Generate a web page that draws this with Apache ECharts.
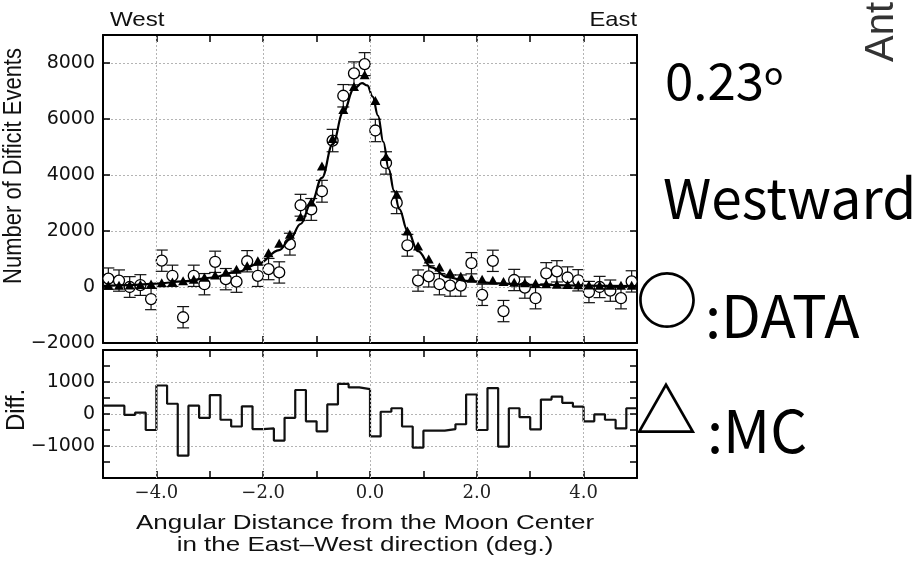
<!DOCTYPE html>
<html><head><meta charset="utf-8">
<script src="https://cdn.jsdelivr.net/npm/echarts@6/dist/echarts.min.js"></script>
<style>html,body{margin:0;padding:0;background:#fff}#c{width:924px;height:563px}</style>
</head><body><div id="c"></div>
<script>
// ---- data ----
const binCenters = [-4.9,-4.7,-4.5,-4.3,-4.1,-3.9,-3.7,-3.5,-3.3,-3.1,-2.9,-2.7,-2.5,-2.3,-2.1,-1.9,-1.7,-1.5,-1.3,-1.1,-0.9,-0.7,-0.5,-0.3,-0.1,0.1,0.3,0.5,0.7,0.9,1.1,1.3,1.5,1.7,1.9,2.1,2.3,2.5,2.7,2.9,3.1,3.3,3.5,3.7,3.9,4.1,4.3,4.5,4.7,4.9];
const dataCounts = [300,230,0,70,-430,940,400,-1080,400,100,900,280,190,920,400,640,520,1530,2920,2770,3420,5230,6830,7630,7960,5590,4430,3010,1490,230,380,100,50,50,850,-280,935,-860,250,-20,-400,490,560,340,240,-180,0,-130,-400,200];
const dataErrors = [380,380,370,370,380,380,380,380,380,380,380,380,380,380,380,380,380,390,390,390,390,400,400,410,410,400,400,390,390,380,380,380,380,380,380,380,380,380,380,380,380,380,380,380,380,380,380,380,380,380];
const mcCounts = [60,60,70,90,110,150,180,220,280,350,430,530,630,760,940,1220,1560,1880,2510,3040,4320,5300,6340,7160,7580,6660,4660,3310,2000,1460,1000,710,510,380,310,280,240,200,170,150,130,120,100,90,80,70,60,60,60,60];
const fitX = [-5.0,-4.5,-4.0,-3.5,-3.0,-2.5,-2.1,-1.7,-1.5,-1.3,-1.1,-0.9,-0.7,-0.5,-0.3,-0.15,-0.05,0.05,0.15,0.25,0.35,0.45,0.55,0.7,0.9,1.15,1.45,1.8,2.4,3.0,4.0,5.0];
const fitY = [40,70,120,200,330,530,820,1320,1700,2250,3000,3900,5100,6250,7080,7280,7200,6800,6120,5180,4220,3440,2780,2020,1280,700,350,220,130,80,50,30];
const diffValues = [260,260,-30,40,-500,890,320,-1300,260,-120,590,-180,-390,240,-470,-450,-830,-120,750,-230,-540,300,940,830,780,-700,70,180,-390,-1050,-520,-520,-470,-320,610,-500,810,-1020,180,-100,-480,450,540,350,230,-230,-10,-180,-450,180];
const xTickValues = [-4,-2,0,2,4];
const xTickLabels = ['\u22124.0','\u22122.0','0.0','2.0','4.0'];
const yTopTickValues = [-2000,0,2000,4000,6000,8000];
const yTopTickLabels = ['\u22122000','0','2000','4000','6000','8000'];
const yDiffTickValues = [-1000,0,1000];
const yDiffTickLabels = ['\u22121000','0','1000'];
const xTitleLines = ['Angular Distance from the Moon Center','in the East\u2013West direction (deg.)'];

// ---- chart ----
const chart = echarts.init(document.getElementById('c'), null, {renderer:'canvas'});
const BLACK = '#000';
const gridLine = {color:'#b4b4b4', type:[2,2], width:1};
const lab = (vals, labels) => v => { const i = vals.indexOf(v); return i >= 0 ? labels[i] : ''; };

function xAx(gridIndex, position, withLabels){
  const a = {
    type:'value', gridIndex, position, min:-5, max:5, interval:1,
    axisLine:{show:true, onZero:false, lineStyle:{color:BLACK, width:2}},
    axisTick:{show:true, inside:true, length:7, lineStyle:{color:BLACK, width:1.5}},
    axisLabel:{show:false},
    splitLine:{show:false}
  };
  if (withLabels) {
    a.axisLabel = {show:true, margin:6, fontFamily:'DejaVu Serif', fontSize:18, color:'#222',
      formatter: lab(xTickValues, xTickLabels)};
  }
  return a;
}
function yAx(gridIndex, position, min, max, interval, labels, minor){
  const a = {
    type:'value', gridIndex, position, min, max, interval,
    axisLine:{show:true, onZero:false, lineStyle:{color:BLACK, width:2}},
    axisTick:{show:true, inside:true, length:7, lineStyle:{color:BLACK, width:1.5}},
    minorTick:{show:!!minor, splitNumber:2, length:7, lineStyle:{color:BLACK, width:1.5}},
    axisLabel:{show:false},
    splitLine:{show:false}
  };
  if (labels) {
    a.axisLabel = {show:true, margin:8, fontFamily:'DejaVu Sans', fontSize:19, color:'#111', formatter: labels};
    a.splitLine = {show:true, lineStyle:gridLine};
  }
  return a;
}

const errData = binCenters.map((x,i)=>[x, dataCounts[i], dataErrors[i]]);
const stepData = binCenters.map((c,i)=>[+(c-0.1).toFixed(2), diffValues[i]]);
stepData.push([+(binCenters[binCenters.length-1]+0.1).toFixed(2), diffValues[diffValues.length-1]]);

const option = {
  animation:false,
  backgroundColor:'#fff',
  grid:[
    {left:103, top:35, width:534, height:308},
    {left:103, top:350, width:534, height:128}
  ],
  xAxis:[
    xAx(0,'bottom',false),
    xAx(0,'top',false),
    xAx(1,'bottom',true),
    xAx(1,'top',false)
  ],
  yAxis:[
    yAx(0,'left',-2000,9000,2000, lab(yTopTickValues, yTopTickLabels), false),
    yAx(0,'right',-2000,9000,2000, null, false),
    yAx(1,'left',-2000,2000,1000, lab(yDiffTickValues, yDiffTickLabels), true),
    yAx(1,'right',-2000,2000,1000, null, true)
  ],
  series:[
    {
      type:'custom', xAxisIndex:0, yAxisIndex:0, z:2, data:errData,
      encode:{x:0, y:1},
      renderItem:(params, api) => {
        const x = api.value(0), y = api.value(1), e = api.value(2);
        const hi = api.coord([x, y+e]), lo = api.coord([x, y-e]);
        const w = 6, st = {stroke:'#111', lineWidth:1.2};
        return {type:'group', children:[
          {type:'line', shape:{x1:hi[0],y1:hi[1],x2:lo[0],y2:lo[1]}, style:st},
          {type:'line', shape:{x1:hi[0]-w,y1:hi[1],x2:hi[0]+w,y2:hi[1]}, style:st},
          {type:'line', shape:{x1:lo[0]-w,y1:lo[1],x2:lo[0]+w,y2:lo[1]}, style:st}
        ]};
      },
      markLine:{silent:true, symbol:'none', label:{show:false}, lineStyle:gridLine,
        data: xTickValues.map(v=>({xAxis:v}))}
    },
    {
      name:'DATA', type:'scatter', xAxisIndex:0, yAxisIndex:0, z:3,
      symbol:'circle', symbolSize:11,
      itemStyle:{color:'#fff', borderColor:'#000', borderWidth:1.3, opacity:1},
      data: binCenters.map((x,i)=>[x, dataCounts[i]])
    },
    {
      name:'fit', type:'line', xAxisIndex:0, yAxisIndex:0, z:4,
      smooth:0.4, smoothMonotone:'x', showSymbol:false, symbol:'none',
      lineStyle:{color:'#000', width:2.2},
      data: fitX.map((x,i)=>[x, fitY[i]])
    },
    {
      name:'MC', type:'scatter', xAxisIndex:0, yAxisIndex:0, z:5,
      symbol:'triangle', symbolSize:[10,9],
      itemStyle:{color:'#000', opacity:1},
      data: binCenters.map((x,i)=>[x, mcCounts[i]])
    },
    {
      name:'Diff', type:'line', xAxisIndex:2, yAxisIndex:2, z:4,
      step:'end', showSymbol:false, symbol:'none',
      lineStyle:{color:'#111', width:2.2},
      data: stepData,
      markLine:{silent:true, symbol:'none', label:{show:false}, lineStyle:gridLine,
        data: xTickValues.map(v=>({xAxis:v}))}
    }
  ],
  graphic:[
    {type:'text', x:110, y:20, scaleX:1.15, style:{text:'West', font:'21px "Liberation Sans"', fill:'#111', textAlign:'left', textVerticalAlign:'middle'}},
    {type:'text', x:637, y:20, scaleX:1.13, style:{text:'East', font:'21px "Liberation Sans"', fill:'#111', textAlign:'right', textVerticalAlign:'middle'}},
    {type:'text', x:14, y:166, rotation:Math.PI/2, scaleY:1.2, style:{text:'Number of Dificit Events', font:'22px "Liberation Sans"', fill:'#111', textAlign:'center', textVerticalAlign:'middle'}},
    {type:'text', x:17, y:410, rotation:Math.PI/2, scaleY:1.05, style:{text:'Diff.', font:'24px "Liberation Sans"', fill:'#111', textAlign:'center', textVerticalAlign:'middle'}},
    {type:'text', x:365, y:523, scaleX:1.3, style:{text:xTitleLines[0], font:'20px "Liberation Sans"', fill:'#111', textAlign:'center', textVerticalAlign:'middle'}},
    {type:'text', x:365, y:545, scaleX:1.3, style:{text:xTitleLines[1], font:'20px "Liberation Sans"', fill:'#111', textAlign:'center', textVerticalAlign:'middle'}},
    {type:'text', x:665, y:81, style:{text:'0.23', font:'51px "Noto Sans CJK JP"', fill:'#000', textAlign:'left', textVerticalAlign:'middle'}},
    {type:'text', x:764, y:73, style:{text:'o', font:'32px "Noto Sans CJK JP"', fill:'#000', textAlign:'left', textVerticalAlign:'middle'}},
    {type:'text', x:663, y:198, style:{text:'Westward', font:'55px "Noto Sans CJK JP"', fill:'#000', textAlign:'left', textVerticalAlign:'middle'}},
    {type:'text', x:636, y:300, style:{text:'\u25CB', font:'bold 62px "Noto Sans CJK JP"', fill:'#000', textAlign:'left', textVerticalAlign:'middle'}},
    {type:'text', x:705, y:316, style:{text:':DATA', font:'58px "Noto Sans CJK JP"', fill:'#000', textAlign:'left', textVerticalAlign:'middle'}},
    {type:'text', x:635, y:410, style:{text:'\u25B3', font:'bold 62px "Noto Sans CJK JP"', fill:'#000', textAlign:'left', textVerticalAlign:'middle'}},
    {type:'text', x:707, y:431, style:{text:':MC', font:'58px "Noto Sans CJK JP"', fill:'#000', textAlign:'left', textVerticalAlign:'middle'}},
    {type:'text', x:882, y:62, rotation:Math.PI/2, style:{text:'Anti', font:'40px "Liberation Sans"', fill:'#333', textAlign:'left', textVerticalAlign:'middle'}}
  ]
};
chart.setOption(option);
</script>
</body></html>
